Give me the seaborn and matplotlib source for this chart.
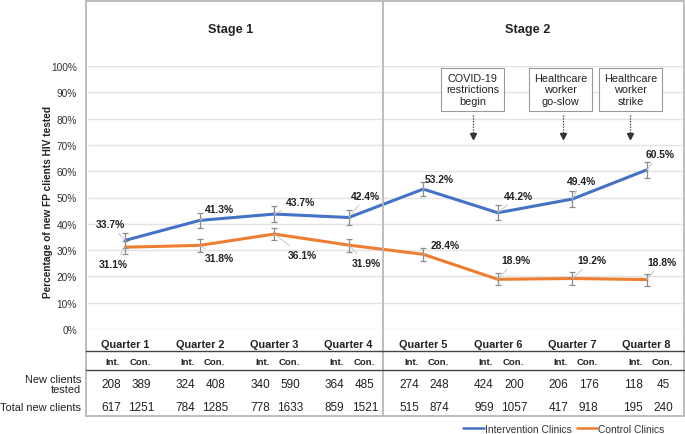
import matplotlib
matplotlib.use("Agg")
import matplotlib.pyplot as plt
import seaborn as sns
import pandas as pd
from matplotlib.lines import Line2D

quarters = [f"Quarter {i}" for i in range(1, 9)]
intervention = [33.7, 41.3, 43.7, 42.4, 53.2, 44.2, 49.4, 60.5]
control = [31.1, 31.8, 36.1, 31.9, 28.4, 18.9, 19.2, 18.8]
int_err = [2.9, 2.8, 2.9, 2.9, 2.8, 2.9, 2.9, 3.0]
con_err = [2.5, 2.4, 2.4, 2.5, 2.5, 2.3, 2.4, 2.3]
int_tested = [208, 324, 340, 364, 274, 424, 206, 118]
con_tested = [389, 408, 590, 485, 248, 200, 176, 45]
int_total = [617, 784, 778, 859, 515, 959, 417, 195]
con_total = [1251, 1285, 1633, 1521, 874, 1057, 918, 240]
series_names = ["Intervention Clinics", "Control Clinics"]
events = ["COVID-19\nrestrictions\nbegin", "Healthcare\nworker\ngo-slow", "Healthcare\nworker\nstrike"]

BLUE = "#4472C4"
ORANGE = "#ED7D31"
TXT = "#222222"

sns.set_theme(style="white")
plt.rcParams['font.family'] = ['Liberation Sans', 'DejaVu Sans']

W, H = 685, 435
fig = plt.figure(figsize=(W / 100, H / 100), dpi=100)

def fx(px):
    return px / W

def fy(py):
    return 1 - py / H

ax = fig.add_axes([fx(88), fy(330), fx(684) - fx(88), fy(67) - fy(330)])

df = pd.DataFrame({
    "pos": list(range(8)) * 2,
    "value": intervention + control,
    "group": [series_names[0]] * 8 + [series_names[1]] * 8,
})
sns.lineplot(data=df, x="pos", y="value", hue="group",
             palette={series_names[0]: BLUE, series_names[1]: ORANGE},
             linewidth=2.2, ax=ax, legend=False, zorder=3)

pos = list(range(8))
ax.errorbar(pos, intervention, yerr=int_err, fmt="none", ecolor="#8c8c8c",
            elinewidth=0.9, capsize=2.5, capthick=0.9, zorder=4)
ax.errorbar(pos, control, yerr=con_err, fmt="none", ecolor="#8c8c8c",
            elinewidth=0.9, capsize=2.5, capthick=0.9, zorder=4)

ax.set_xlim(-0.5, 7.5)
ax.set_ylim(0, 100)
ax.set_yticks(range(0, 101, 10))
ax.set_yticklabels([f"{v}%" for v in range(0, 101, 10)], fontsize=7.3, color="#333333")
ax.set_xticks(pos)
ax.set_xticklabels(quarters, fontsize=7.8, fontweight="bold", color=TXT)
ax.tick_params(axis="x", length=0, pad=7)
ax.tick_params(axis="y", length=0, pad=8)
ax.grid(axis="y", color="#e3e3e3", linewidth=1)
ax.set_axisbelow(True)
for s in ax.spines.values():
    s.set_visible(False)
ax.set_xlabel("")
ax.set_ylabel("")
fig.text(fx(48), fy(202), "Percentage of new FP clients HIV tested", rotation=90,
         ha="center", va="center", fontsize=7.3, fontweight="bold", color=TXT)

# data labels with leader lines (label positions in data units)
int_lab_pos = [(-0.20, 39.9), (1.26, 45.6), (2.35, 48.3), (3.23, 50.6),
               (4.22, 57.0), (5.28, 50.6), (6.13, 56.3), (7.18, 66.5)]
con_lab_pos = [(-0.16, 24.7), (1.26, 27.0), (2.37, 28.1), (3.23, 25.1),
               (4.30, 31.9), (5.24, 26.2), (6.27, 26.2), (7.20, 25.5)]
for i in range(8):
    for val, lp in ((intervention[i], int_lab_pos[i]), (control[i], con_lab_pos[i])):
        ax.annotate(f"{val:.1f}%", xy=(i, val), xytext=lp, ha="center", va="center",
                    fontsize=7.4, fontweight="bold", color=TXT, zorder=5,
                    arrowprops=dict(arrowstyle="-", color="#c4c4c4", lw=0.7,
                                    shrinkA=1, shrinkB=0))

# event boxes and dotted arrows
box_x = [fx((437 + 508) / 2), fx((529 + 592) / 2), fx((599 + 662) / 2)]
arrow_x = [473, 563, 630]
for t, bx, axp in zip(events, box_x, arrow_x):
    fig.text(bx, fy(90.5), t, ha="center", va="center", fontsize=7.8, color=TXT,
             linespacing=1.15,
             bbox=dict(boxstyle="square,pad=0.45", fc="white", ec="#9a9a9a", lw=0.8))
    fig.add_artist(Line2D([fx(axp), fx(axp)], [fy(116), fy(136)], color="#333333",
                          lw=0.9, linestyle=(0, (1, 1.2))))
    fig.add_artist(Line2D([fx(axp)], [fy(137)], marker="v", markersize=4,
                          color="#333333", linestyle="none"))

# stage titles
fig.text(fx(231), fy(30), "Stage 1", ha="center", va="center", fontsize=9.2, fontweight="bold", color=TXT)
fig.text(fx(528), fy(30), "Stage 2", ha="center", va="center", fontsize=9.2, fontweight="bold", color=TXT)

# frame
frame_c = "#b8b8b8"
for (x0, y0, x1, y1) in [(86, 2, 684, 2), (86, 2, 86, 417), (684, 2, 684, 417),
                         (86, 417, 684, 417), (383, 2, 383, 417)]:
    fig.add_artist(Line2D([fx(x0), fx(x1)], [fy(y0), fy(y1)], color=frame_c, lw=1.3))
for yy in (352, 371):
    fig.add_artist(Line2D([fx(86), fx(684)], [fy(yy), fy(yy)], color="#444444", lw=1.0))

# table
def qx(i, off_px):
    return fx(125 + 74.6 * i + off_px)

for i in range(8):
    fig.text(qx(i, -12), fy(363), "Int.", ha="center", va="center", fontsize=6.8, fontweight="bold", color=TXT)
    fig.text(qx(i, 15), fy(363), "Con.", ha="center", va="center", fontsize=6.8, fontweight="bold", color=TXT)
    fig.text(qx(i, -14), fy(385), str(int_tested[i]), ha="center", va="center", fontsize=8.5, color=TXT)
    fig.text(qx(i, 16), fy(385), str(con_tested[i]), ha="center", va="center", fontsize=8.5, color=TXT)
    fig.text(qx(i, -14), fy(408), str(int_total[i]), ha="center", va="center", fontsize=8.5, color=TXT)
    fig.text(qx(i, 16), fy(408), str(con_total[i]), ha="center", va="center", fontsize=8.5, color=TXT)

fig.text(fx(81), fy(385), "New clients\ntested", ha="right", va="center", fontsize=7.9, color=TXT, linespacing=1.1)
fig.text(fx(81), fy(408), "Total new clients", ha="right", va="center", fontsize=7.9, color=TXT)

# legend
handles = [Line2D([0], [0], color=BLUE, lw=1.8), Line2D([0], [0], color=ORANGE, lw=1.8)]
leg = fig.legend(handles, series_names, loc="center right", bbox_to_anchor=(fx(664), fy(430)),
                 ncol=2, frameon=False, fontsize=7.4, handlelength=2.0, handletextpad=0.05,
                 columnspacing=0.5, borderpad=0, borderaxespad=0)
for t in leg.get_texts():
    t.set_color("#333333")

fig.savefig("out.png", dpi=100)
